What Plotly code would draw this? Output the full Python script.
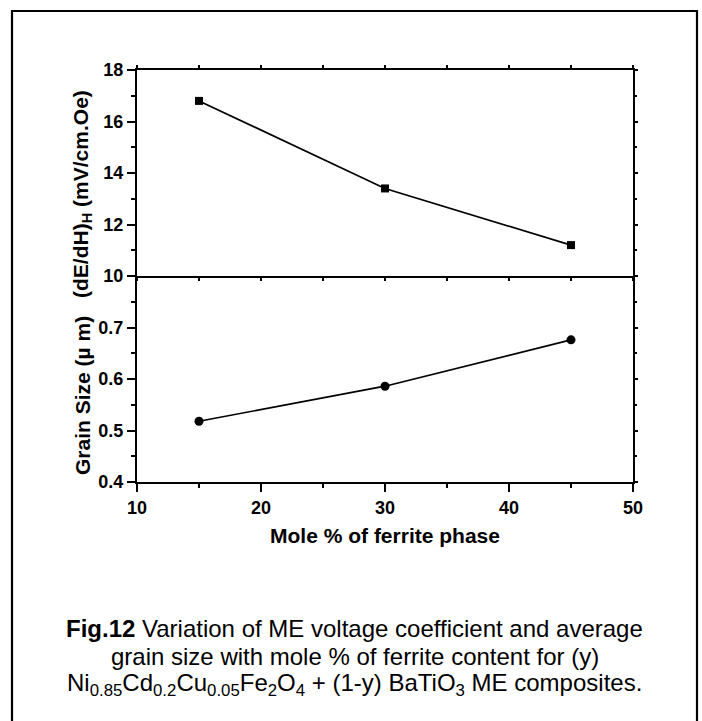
import plotly.graph_objects as go

# ---- data ----
mole_pct = [15, 30, 45]
me_coeff = [16.8, 13.4, 11.2]          # (dE/dH)_H  mV/cm.Oe
grain_size = [0.518, 0.586, 0.676]     # micrometre

x_ticks = [10, 20, 30, 40, 50]
top_ticks = [10, 12, 14, 16, 18]
bot_ticks = [0.4, 0.5, 0.6, 0.7]

W, H = 702, 721
L, R, T, B = 137, 69, 70, 239
pw, ph = W - L - R, H - T - B

def px(x):
    return (x - L) / pw

def py(y):
    return (H - B - y) / ph

FONT = "Arial, Liberation Sans, Helvetica, sans-serif"
tickfont = dict(family=FONT, size=18, color="black", weight="bold")
titlefont = dict(family=FONT, size=21, color="black", weight="bold")

fig = go.Figure()
fig.add_trace(go.Scatter(x=mole_pct, y=me_coeff, xaxis="x2", yaxis="y2", mode="lines+markers",
                         line=dict(color="black", width=1.7),
                         marker=dict(symbol="square", size=8, color="black"),
                         showlegend=False, hoverinfo="skip"))
fig.add_trace(go.Scatter(x=mole_pct, y=grain_size, xaxis="x", yaxis="y", mode="lines+markers",
                         line=dict(color="black", width=1.7),
                         marker=dict(symbol="circle", size=9, color="black"),
                         showlegend=False, hoverinfo="skip"))
# invisible carriers for the right-hand (mirror) axes
fig.add_trace(go.Scatter(x=mole_pct, y=grain_size, xaxis="x", yaxis="y3", mode="markers",
                         marker=dict(opacity=0), showlegend=False, hoverinfo="skip"))
fig.add_trace(go.Scatter(x=mole_pct, y=me_coeff, xaxis="x2", yaxis="y4", mode="markers",
                         marker=dict(opacity=0), showlegend=False, hoverinfo="skip"))

line = dict(showline=True, linecolor="black", linewidth=2, showgrid=False, zeroline=False)
big = dict(ticks="outside", ticklen=8, tickwidth=1.5, tickcolor="black")
small = dict(ticks="outside", ticklen=3, tickwidth=1.5, tickcolor="black")

fig.update_layout(
    xaxis=dict(domain=[0, 1], anchor="y", range=[10, 50], tickvals=x_ticks, mirror=False,
               minor=dict(dtick=5, tick0=10, ticks="outside", ticklen=4, tickcolor="black", tickwidth=1.5),
               tickfont=tickfont, **line, **big,
               title=dict(text="Mole % of ferrite phase", standoff=12, font=titlefont)),
    yaxis=dict(domain=[0, 0.5], anchor="x", range=[0.4, 0.8], tickvals=bot_ticks, mirror=False,
               minor=dict(dtick=0.05, tick0=0.4, ticks="outside", ticklen=4, tickcolor="black", tickwidth=1.5),
               tickfont=tickfont, **line, **big),
    xaxis2=dict(domain=[0, 1], anchor="y2", range=[10, 50], tickvals=x_ticks, matches="x",
                showticklabels=False, mirror="allticks",
                minor=dict(dtick=5, tick0=10, ticks="outside", ticklen=2, tickcolor="black", tickwidth=1.5),
                **line, **small),
    yaxis2=dict(domain=[0.5, 1], anchor="x2", range=[10, 18], tickvals=top_ticks, mirror=False,
                minor=dict(dtick=1, tick0=10, ticks="outside", ticklen=4, tickcolor="black", tickwidth=1.5),
                tickfont=tickfont, **line, **big),
    yaxis3=dict(overlaying="y", side="right", anchor="x", range=[0.4, 0.8], tickvals=bot_ticks,
                showticklabels=False,
                minor=dict(dtick=0.05, tick0=0.4, ticks="outside", ticklen=2, tickcolor="black", tickwidth=1.5),
                **line, **small),
    yaxis4=dict(overlaying="y2", side="right", anchor="x2", range=[10, 18], tickvals=top_ticks,
                showticklabels=False,
                minor=dict(dtick=1, tick0=10, ticks="outside", ticklen=2, tickcolor="black", tickwidth=1.5),
                **line, **small),
)

annotations = [
    dict(text="(dE/dH)<sub>H</sub> (mV/cm.Oe)", x=px(82), y=py(194), xref="paper", yref="paper",
         textangle=-90, showarrow=False, font=titlefont, xanchor="center", yanchor="middle"),
    dict(text="Grain Size (µ m)", x=px(82), y=py(396), xref="paper", yref="paper",
         textangle=-90, showarrow=False, font=titlefont, xanchor="center", yanchor="middle"),
]

cap_font = dict(family=FONT, size=24, color="black")
cap_lines = [
    "<b>Fig.12</b> Variation of ME voltage coefficient and average",
    "grain size with mole % of ferrite content for (y)",
    "Ni<sub>0.85</sub>Cd<sub>0.2</sub>Cu<sub>0.05</sub>Fe<sub>2</sub>O<sub>4</sub> + (1-y) BaTiO<sub>3</sub> ME composites.",
]
cap_y = [628, 656, 684]
for t, yy in zip(cap_lines, cap_y):
    annotations.append(dict(text=t, x=px(354.5), y=py(yy), xref="paper", yref="paper",
                            showarrow=False, font=cap_font, xanchor="center", yanchor="middle"))

fig.update_layout(
    width=W, height=H, autosize=False,
    margin=dict(l=L, r=R, t=T, b=B, pad=0),
    paper_bgcolor="white", plot_bgcolor="white",
    annotations=annotations,
    shapes=[dict(type="path", xref="paper", yref="paper",
                 path=f"M {px(12)} {py(740)} L {px(12)} {py(11)} L {px(697)} {py(11)} L {px(697)} {py(740)}",
                 line=dict(color="black", width=2.2))],
)

fig.write_html("out.html")
